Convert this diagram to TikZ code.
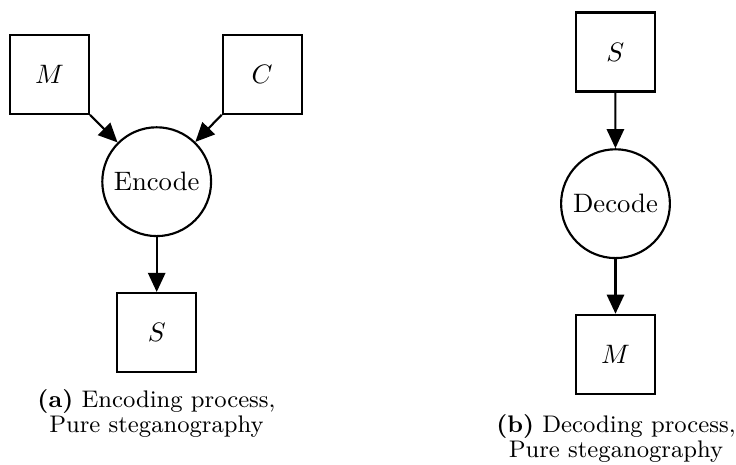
\documentclass[tikz,border=0pt]{standalone}
\usetikzlibrary{arrows.meta}
\begin{document}
\begin{tikzpicture}[x=0.375pt,y=-0.375pt,
  box/.style={draw, line width=0.8pt, minimum size=29.6pt, inner sep=0pt},
  proc/.style={draw, circle, line width=0.8pt, minimum size=40.8pt, inner sep=0pt},
  flow/.style={-{Triangle[length=7.2pt,width=6.5pt]}, line width=0.8pt},
  subcap/.style={font=\fontsize{9}{9.6}\selectfont, align=center, inner sep=0pt}]
\useasboundingbox (0,0) rectangle (736,465);

% (a) encoding
\node[box] (msg) at (49.5,74.3) {$M$};
\node[box] (cov) at (262.2,74.3) {$C$};
\node[proc] (enc) at (156.7,181.7) {Encode};
\node[box] (steg) at (156.7,332.5) {$S$};
\draw[flow] (msg.south east) -- (enc);
\draw[flow] (cov.south west) -- (enc);
\draw[flow] (enc) -- (steg);
% anchor=base sits on the last caption line
\node[subcap, anchor=base] (capa) at (156.5,433) {\textbf{(a)} Encoding process,\\ Pure steganography};

% (b) decoding
\node[box] (stegb) at (615.3,52) {$S$};
\node[proc] (dec) at (615.5,203.7) {Decode};
\node[box] (msgb) at (615.5,354.3) {$M$};
\draw[flow] (stegb) -- (dec);
\draw[flow] (dec) -- (msgb);
\node[subcap, anchor=base] (capb) at (616,458) {\textbf{(b)} Decoding process,\\ Pure steganography};
\end{tikzpicture}
\end{document}
